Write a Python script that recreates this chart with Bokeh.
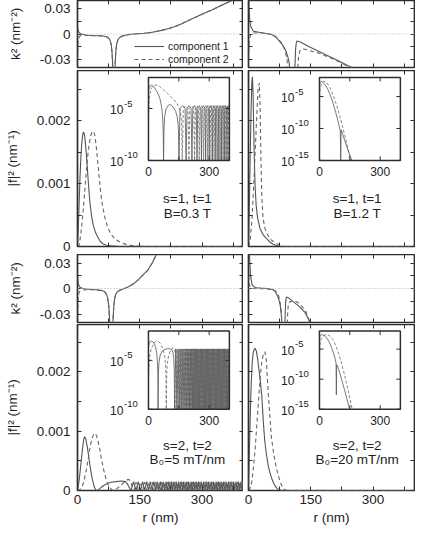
import numpy as np
from bokeh.plotting import figure
from bokeh.layouts import column, row
from bokeh.models import (Range1d, LinearAxis, FixedTicker, CustomJSTickFormatter, Span,
                          Legend, LegendItem, LinearScale)
from bokeh.embed import file_html
from bokeh.resources import INLINE
from bokeh.core.properties import value

# ---------------- axes: ranges, ticks, labels ----------------
R_RANGE = (0, 400)
K2_RANGE = (-0.04, 0.04)
F_RANGE = (0, 0.0028)
R_TICKS = [0, 150, 300]
R_MINOR = [75, 225, 375]
K2_TICKS = [-0.03, 0, 0.03]
K2_MINOR = [-0.015, 0.015]
F_TICKS = [0, 0.001, 0.002]
F_MINOR = [0.0005, 0.0015, 0.0025]
INSET_R_TICKS = [0, 150, 300]
INSET_R_LABEL_POS = [0, 300]
INSET_R_LABELS = ["0", "300"]
INSET_EXP_LEFT = (-10, -2)      # log10 |f|^2 range of left insets
INSET_EXP_RIGHT = (-15, -2)     # log10 |f|^2 range of right insets
INSET_TICKS_LEFT = [-5, -10]
INSET_TICKS_RIGHT = [-5, -10, -15]
K2_LABEL = "k\u00b2 (nm\u207b\u00b2)"
F_LABEL = "|f|\u00b2 (nm\u207b\u00b9)"
R_LABEL = "r (nm)"
LEGEND_LABELS = ["component 1", "component 2"]
ANN_TOP_LEFT = ["s=1, t=1", "B=0.3 T"]
ANN_TOP_RIGHT = ["s=1, t=1", "B=1.2 T"]
ANN_BOT_LEFT = ["s=2, t=2", "B\u2080=5 mT/nm"]
ANN_BOT_RIGHT = ["s=2, t=2", "B\u2080=20 mT/nm"]

# ---------------- k^2 data (r in nm, k^2 in nm^-2) ----------------
k2_s1_b03_c1 = [(0.5, 0.0075), (1.5, 0.0045), (3, 0.0025), (6, 0.001), (10, 0.0), (20, -0.0012),
                (35, -0.0018), (50, -0.002), (62, -0.0024), (70, -0.0032), (75, -0.0048), (78.5, -0.0075),
                (81, -0.012), (83, -0.02), (84.5, -0.033), (85.5, -0.05), (90, -0.05), (91, -0.033),
                (92.5, -0.02), (94.5, -0.012), (97, -0.0075), (101, -0.0045), (108, -0.0025), (118, -0.0012),
                (130, -0.0003), (145, 0.0003), (160, 0.0008), (180, 0.002), (200, 0.004), (220, 0.0065),
                (235, 0.009), (250, 0.012), (265, 0.0155), (280, 0.019), (300, 0.0235), (325, 0.029),
                (350, 0.035), (372, 0.04), (385, 0.044)]
k2_s1_b03_c2 = [(0.5, -0.03), (1.5, -0.012), (3, -0.005), (6, -0.0025), (10, -0.0018), (20, -0.0018),
                (35, -0.0019), (50, -0.0021), (62, -0.0025), (70, -0.0033), (75, -0.005), (78.5, -0.0078),
                (81, -0.0125), (83, -0.021), (84.5, -0.034), (85.5, -0.05), (90, -0.05), (91, -0.032),
                (92.5, -0.019), (94.5, -0.0115), (97, -0.0072), (101, -0.0043), (108, -0.0024), (118, -0.0011),
                (130, -0.0003), (145, 0.0003), (160, 0.0008), (180, 0.002), (200, 0.004), (220, 0.0065),
                (235, 0.009), (250, 0.012), (265, 0.0155), (280, 0.019), (300, 0.0235), (325, 0.029),
                (350, 0.035), (372, 0.04), (385, 0.044)]
k2_s1_b12_c1 = [(0.5, 0.045), (1.5, 0.03), (3, 0.017), (6, 0.008), (12, 0.0033), (25, 0.002), (43, 0.0005),
                (55, -0.0006), (65, -0.003), (74, -0.0083), (82, -0.013), (88, -0.018), (91.5, -0.022),
                (95, -0.028), (97.5, -0.033), (99.5, -0.042), (101, -0.055), (111, -0.055), (112.5, -0.03),
                (113.5, -0.018), (115, -0.011), (117, -0.0083), (125, -0.0095), (145, -0.015), (170, -0.021),
                (200, -0.028), (225, -0.034), (245, -0.039), (265, -0.044)]
k2_s1_b12_c2 = [(0.5, -0.03), (1.5, -0.012), (3, -0.004), (6, 0.0), (12, 0.0012), (25, 0.0012), (43, 0.0008),
                (55, -0.0005), (65, -0.003), (72, -0.006), (80, -0.011), (86, -0.017), (90, -0.024),
                (93, -0.032), (95, -0.042), (96.5, -0.055), (118, -0.055), (119.5, -0.035), (121, -0.025),
                (124, -0.02), (130, -0.018), (140, -0.0185), (155, -0.021), (167, -0.0225), (200, -0.029),
                (225, -0.035), (245, -0.04), (265, -0.045)]
k2_s2_b5_c1 = [(0.5, 0.014), (1.5, 0.0075), (3, 0.004), (6, 0.0015), (10, 0.0005), (20, -0.0005),
               (35, -0.0012), (50, -0.0018), (60, -0.0025), (66, -0.004), (70, -0.007), (73, -0.012),
               (75.5, -0.021), (77, -0.033), (78, -0.05), (85, -0.05), (86, -0.033), (87.5, -0.021),
               (89.5, -0.012), (92, -0.007), (96, -0.004), (102, -0.002), (110, -0.0005), (118, 0.001),
               (126, 0.003), (135, 0.0055), (147, 0.0104), (158, 0.016), (170, 0.022), (180, 0.03),
               (187, 0.037), (195, 0.046)]
k2_s2_b5_c2 = [(0.5, -0.04), (1.5, -0.015), (3, -0.006), (6, -0.003), (10, -0.002), (20, -0.0015),
               (35, -0.0013), (50, -0.0019), (60, -0.0026), (66, -0.0042), (70, -0.0072), (73, -0.0125),
               (75.5, -0.022), (77, -0.034), (78, -0.05), (85, -0.05), (86, -0.032), (87.5, -0.02),
               (89.5, -0.0115), (92, -0.0068), (96, -0.0039), (102, -0.0019), (110, -0.0005), (118, 0.001),
               (126, 0.003), (135, 0.0055), (147, 0.0104), (158, 0.016), (170, 0.022), (180, 0.03),
               (187, 0.037), (195, 0.046)]
k2_s2_b20_c1 = [(0.5, 0.05), (2, 0.042), (3, 0.0335), (4.7, 0.016), (8.5, 0.0046), (14, 0.0018), (20, 0.0008),
                (30, 0.0004), (43, 0.0), (52, -0.0006), (59, -0.0014), (64, -0.003), (68, -0.0069),
                (71, -0.01), (74, -0.0146), (76.5, -0.02), (78, -0.026), (79.5, -0.034), (81, -0.05),
                (87.5, -0.05), (88.4, -0.03), (89.5, -0.016), (91, -0.011), (92.3, -0.01), (95, -0.0105),
                (105, -0.0146), (121, -0.0204), (136, -0.028), (148, -0.0396), (155, -0.046)]
k2_s2_b20_c2 = [(0.5, 0.015), (2, 0.005), (5, 0.0015), (10, 0.0003), (20, -0.0002), (40, -0.0004),
                (55, -0.0008), (62, -0.002), (67, -0.004), (72.5, -0.0085), (75.5, -0.014), (78, -0.022),
                (79.5, -0.032), (81, -0.05), (93, -0.05), (94.5, -0.028), (96, -0.018), (100, -0.0155),
                (106, -0.0148), (113, -0.015), (121, -0.017), (129, -0.021), (138, -0.027), (148, -0.0396),
                (155, -0.046)]

# ---------------- |f|^2 data (r in nm, |f|^2 in nm^-1) ----------------
f_s1_b03_c1 = [(0, 0), (2, 0.0003), (4, 0.0007), (6, 0.0011), (8, 0.0014), (10, 0.00162), (12, 0.00175),
               (14, 0.00182), (16, 0.0018), (18, 0.00172), (21, 0.0015), (24, 0.00122), (27, 0.00094),
               (30, 0.0007), (34, 0.00048), (38, 0.00034), (43, 0.00023), (48, 0.00016), (55, 0.00008),
               (62, 0.00004), (70, 0.00002), (80, 0.00001), (100, 0), (400, 0)]
f_s1_b03_c2 = [(0, 0), (4, 0.00002), (8, 0.0002), (12, 0.00045), (16, 0.00075), (20, 0.0011), (24, 0.0014),
               (28, 0.00163), (32, 0.00177), (36, 0.00183), (39, 0.00183), (42, 0.00176), (45, 0.0016),
               (48, 0.0014), (52, 0.00112), (56, 0.00085), (60, 0.00066), (66, 0.00046), (72, 0.00032),
               (80, 0.0002), (90, 0.00012), (100, 0.00008), (110, 0.00005), (125, 0.00002), (140, 0.00001),
               (160, 0), (400, 0)]
f_s1_b12_c1 = [(0, 0), (2, 0.0006), (4, 0.0014), (6, 0.0021), (8, 0.00262), (9.5, 0.0027), (11, 0.00245),
               (12.5, 0.0019), (14, 0.0014), (16, 0.00095), (18.5, 0.00065), (22, 0.00045), (28, 0.00028),
               (35, 0.00019), (43, 0.00013), (50, 0.00008), (58, 0.00004), (66, 0.00002), (78, 0), (400, 0)]
f_s1_b12_c2 = [(0, 0), (4, 0.0001), (8, 0.0004), (12, 0.0009), (16, 0.0015), (20, 0.0021), (23, 0.0025),
               (26, 0.0026), (28, 0.0022), (30, 0.0014), (32, 0.0008), (35, 0.00045), (40, 0.00028),
               (45, 0.0002), (52, 0.00012), (60, 0.00008), (70, 0.00004), (86, 0), (400, 0)]
f_s2_b5_c1 = [(0, 0), (3, 0.00012), (6, 0.0003), (9, 0.0005), (12, 0.0007), (15, 0.00086), (17, 0.00091),
              (20, 0.00087), (24, 0.00072), (28, 0.00052), (32, 0.00033), (36, 0.00018), (40, 0.00007),
              (44, 0.00001), (47, 0), (50, 0.00001), (55, 0.00004), (62, 0.00008), (70, 0.00011),
              (80, 0.00014), (93, 0.00015), (105, 0.00016), (116, 0.00015), (122, 0.00009), (127, 0.00002)]
f_s2_b5_c2 = [(0, 0), (5, 0.00001), (10, 0.00005), (15, 0.00014), (20, 0.0003), (25, 0.0005), (30, 0.00072),
              (35, 0.00088), (40, 0.00096), (43, 0.00096), (46, 0.00092), (50, 0.00082), (54, 0.00068),
              (58, 0.00052), (62, 0.00038), (66, 0.00026), (70, 0.00016), (75, 0.00008), (80, 0.00003),
              (84, 0.00001), (88, 0), (92, 0.00002), (100, 0.00006), (108, 0.00011), (116, 0.00016),
              (122, 0.00019), (127, 0.00017), (131, 0.00008)]
# dense oscillating tail of the s=2, B0=5 mT/nm states (zeros and crests)
f_s2_b5_tail_c1 = [(129, 0), (135, 1.5e-4), (141, 0), (146.5, 1.5e-4), (152, 0), (157, 1.5e-4), (162, 0),
                   (166.5, 1.5e-4), (171, 0), (175.5, 1.5e-4), (180, 0), (184, 1.5e-4), (188, 0), (192, 1.5e-4),
                   (196, 0), (199.5, 1.5e-4), (203, 0), (206.5, 1.5e-4), (210, 0), (213.5, 1.5e-4), (217, 0),
                   (220, 1.5e-4), (223, 0), (226, 1.5e-4), (229, 0), (232, 1.5e-4), (235, 0), (238, 1.5e-4),
                   (241, 0), (244, 1.5e-4), (247, 0), (250, 1.5e-4), (253, 0), (256, 1.5e-4), (259, 0),
                   (262, 1.5e-4), (265, 0), (268, 1.5e-4), (271, 0), (274, 1.5e-4), (277, 0), (280, 1.5e-4),
                   (283, 0), (286, 1.5e-4), (289, 0), (292, 1.5e-4), (295, 0), (298, 1.5e-4), (301, 0),
                   (304, 1.5e-4), (307, 0), (310, 1.5e-4), (313, 0), (316, 1.5e-4), (319, 0), (322, 1.5e-4),
                   (325, 0), (328, 1.5e-4), (331, 0), (334, 1.5e-4), (337, 0), (340, 1.5e-4), (343, 0),
                   (346, 1.5e-4), (349, 0), (352, 1.5e-4), (355, 0), (358, 1.5e-4), (361, 0), (364, 1.5e-4),
                   (367, 0), (370, 1.5e-4), (373, 0), (376, 1.5e-4), (379, 0), (382, 1.5e-4), (385, 0),
                   (388, 1.5e-4), (391, 0), (394, 1.5e-4), (397, 0), (400, 1.5e-4)]
f_s2_b5_tail_c2 = [(136, 0), (141, 1.4e-4), (146.5, 0), (152, 1.4e-4), (157, 0), (162, 1.4e-4), (166.5, 0),
                   (171, 1.4e-4), (175.5, 0), (180, 1.4e-4), (184, 0), (188, 1.4e-4), (192, 0), (196, 1.4e-4),
                   (199.5, 0), (203, 1.4e-4), (206.5, 0), (210, 1.4e-4), (213.5, 0), (217, 1.4e-4), (220, 0),
                   (223, 1.4e-4), (226, 0), (229, 1.4e-4), (232, 0), (235, 1.4e-4), (238, 0), (241, 1.4e-4),
                   (244, 0), (247, 1.4e-4), (250, 0), (253, 1.4e-4), (256, 0), (259, 1.4e-4), (262, 0),
                   (265, 1.4e-4), (268, 0), (271, 1.4e-4), (274, 0), (277, 1.4e-4), (280, 0), (283, 1.4e-4),
                   (286, 0), (289, 1.4e-4), (292, 0), (295, 1.4e-4), (298, 0), (301, 1.4e-4), (304, 0),
                   (307, 1.4e-4), (310, 0), (313, 1.4e-4), (316, 0), (319, 1.4e-4), (322, 0), (325, 1.4e-4),
                   (328, 0), (331, 1.4e-4), (334, 0), (337, 1.4e-4), (340, 0), (343, 1.4e-4), (346, 0),
                   (349, 1.4e-4), (352, 0), (355, 1.4e-4), (358, 0), (361, 1.4e-4), (364, 0), (367, 1.4e-4),
                   (370, 0), (373, 1.4e-4), (376, 0), (379, 1.4e-4), (382, 0), (385, 1.4e-4), (388, 0),
                   (391, 1.4e-4), (394, 0), (397, 1.4e-4), (400, 0)]
f_s2_b20_c1 = [(0, 0), (2, 0.0006), (4, 0.0012), (6, 0.0017), (8.5, 0.0021), (11, 0.00232), (14, 0.00238),
               (16, 0.0024), (19, 0.00235), (22, 0.00222), (25, 0.00205), (28, 0.00188), (32, 0.0016),
               (35.5, 0.00118), (39, 0.00085), (43, 0.00062), (48, 0.0004), (55, 0.00022), (62, 0.0001),
               (68, 0.00004), (74, 0.00001), (80, 0), (400, 0)]
f_s2_b20_c2 = [(0, 0), (4, 0.00003), (8, 0.00015), (12, 0.0004), (16, 0.0007), (20, 0.0011), (24, 0.0015),
               (28, 0.0019), (32, 0.00218), (36, 0.0023), (39.5, 0.00234), (43, 0.0022), (47, 0.0017),
               (51, 0.0013), (55, 0.00091), (61, 0.0006), (67, 0.00038), (74, 0.0002), (80, 0.00008),
               (86, 0.00002), (92, 0), (400, 0)]

# ---------------- insets: log10 |f|^2 ----------------
logf_s1_b03_c1 = [(0.5, -3.4), (3, -3.0), (8, -2.8), (14, -2.74), (20, -2.78), (28, -2.95), (38, -3.25),
                  (48, -3.6), (56, -4.0), (62, -4.5), (67, -5.2), (71, -6.2), (73, -7.3), (74.5, -10),
                  (76.5, -7.2), (80, -5.8), (86, -5.1), (95, -4.75), (105, -4.6), (115, -4.7), (125, -4.95),
                  (135, -5.3), (142, -5.8), (148, -6.8), (151, -10),
                  (156, -5.0), (168.5, -4.72), (181, -5.0), (186, -10), (190.5, -5.0), (200.5, -4.72),
                  (210.5, -5.0), (215, -10), (219, -5.0), (227.5, -4.72), (236, -5.0), (240, -10),
                  (243.5, -5.0), (251, -4.72), (258.5, -5.0), (262, -10), (265, -5.0), (272, -4.72),
                  (279, -5.0), (282, -10), (284.7, -5.0), (291, -4.72), (297.3, -5.0), (300, -10),
                  (302.5, -5.0), (308.5, -4.72), (314.5, -5.0), (317, -10), (319.5, -5.0), (325, -4.72),
                  (330.5, -5.0), (333, -10), (335.3, -5.0), (340.5, -4.72), (345.7, -5.0), (348, -10),
                  (350, -5.0), (355, -4.72), (360, -5.0), (362, -10), (364, -5.0), (368.5, -4.72),
                  (373, -5.0), (375, -10), (377, -5.0), (381.5, -4.72), (386, -5.0), (388, -10),
                  (390, -5.0), (394, -4.72), (398, -5.0), (400, -5.3)]
logf_s1_b03_c2 = [(1, -5.5), (3, -4.4), (6, -3.7), (10, -3.3), (16, -3.0), (24, -2.82), (32, -2.74),
                  (40, -2.73), (48, -2.78), (58, -2.92), (68, -3.1), (80, -3.3), (95, -3.55), (110, -3.85),
                  (125, -4.15), (138, -4.45), (148, -4.75), (158, -5.3), (164, -6.3), (167, -10),
                  (172, -5.0), (183.5, -4.72), (195, -5.0), (200, -10), (204, -5.0), (214, -4.72),
                  (224, -5.0), (228, -10), (231.5, -5.0), (239.5, -4.72), (247.5, -5.0), (251, -10),
                  (254, -5.0), (261.5, -4.72), (269, -5.0), (272, -10), (275, -5.0), (281.5, -4.72),
                  (288, -5.0), (291, -10), (293.7, -5.0), (300, -4.72), (306.3, -5.0), (309, -10),
                  (311.5, -5.0), (317, -4.72), (322.5, -5.0), (325, -10), (327.5, -5.0), (333, -4.72),
                  (338.5, -5.0), (341, -10), (343, -5.0), (348, -4.72), (353, -5.0), (355, -10),
                  (357, -5.0), (362, -4.72), (367, -5.0), (369, -10), (371, -5.0), (375.5, -4.72),
                  (380, -5.0), (382, -10), (384, -5.0), (388, -4.72), (392, -5.0), (394, -10),
                  (396, -5.0), (400, -4.75)]
logf_s1_b12_c1 = [(0.5, -3.2), (2, -2.9), (5, -2.7), (9, -2.62), (13, -2.66), (18, -2.8), (25, -3.05),
                  (32, -3.35), (40, -3.8), (50, -4.5), (60, -5.35), (70, -6.35), (80, -7.45), (90, -8.65),
                  (98, -9.7), (103, -10.4), (105, -15), (107, -10.2), (115, -10.9), (125, -11.9),
                  (140, -13.3), (155, -14.6), (160, -15)]
logf_s1_b12_c2 = [(1, -5.0), (3, -4.0), (6, -3.4), (10, -3.0), (16, -2.75), (22, -2.62), (28, -2.62),
                  (35, -2.8), (45, -3.25), (55, -3.85), (65, -4.6), (75, -5.45), (85, -6.4), (95, -7.45),
                  (105, -8.6), (115, -9.8), (125, -11.1), (135, -12.4), (145, -13.8), (155, -15.0)]
logf_s2_b5_c1 = [(0.5, -3.6), (3, -3.25), (8, -3.08), (15, -3.03), (22, -3.1), (30, -3.35), (36, -3.7),
                 (41, -4.3), (44.5, -5.2), (46.5, -6.5), (47.5, -10), (49, -6.5), (52, -5.2), (58, -4.45),
                 (68, -4.05), (80, -3.88), (93, -3.82), (105, -3.8), (115, -3.9), (121, -4.2), (125, -4.8),
                 (127.5, -6.0)]
logf_s2_b5_c2 = [(1, -6.2), (4, -5.0), (8, -4.3), (14, -3.82), (20, -3.52), (28, -3.22), (36, -3.07),
                 (42, -3.02), (50, -3.08), (58, -3.25), (66, -3.55), (74, -4.0), (80, -4.6), (84, -5.3),
                 (86.5, -6.5), (88, -10), (90, -6.3), (94, -5.2), (100, -4.5), (108, -4.0), (116, -3.8),
                 (122, -3.72), (127, -3.78), (131, -4.1), (134, -4.8), (135.3, -6.0)]
logf_s2_b20_c1 = [(0.5, -3.2), (2, -2.9), (5, -2.72), (10, -2.62), (15, -2.62), (22, -2.72), (30, -2.95),
                  (40, -3.35), (50, -3.95), (60, -4.75), (70, -5.75), (78, -6.7), (82, -7.3), (83.5, -12.6),
                  (85, -7.6), (88, -7.7), (95, -8.4), (105, -9.5), (115, -10.7), (125, -11.9), (135, -13.2),
                  (145, -14.5), (150, -15)]
logf_s2_b20_c2 = [(1, -5.2), (3, -4.2), (6, -3.6), (10, -3.2), (16, -2.9), (24, -2.72), (32, -2.64),
                  (40, -2.65), (48, -2.75), (56, -3.0), (65, -3.4), (75, -4.0), (85, -4.8), (95, -5.75),
                  (105, -6.85), (115, -8.1), (125, -9.45), (135, -10.9), (145, -12.4), (155, -14.0), (162, -15)]

# ---------------- style / layout constants ----------------
FONT = "Liberation Sans"
INK = "#2e2e2e"
TXT = "#222222"
C1 = "#555555"
C2 = "#666666"
FRAME_W = 166
LEFT_BORDER = 77
INSET_X = (171, 366)             # inset box in parent data units (r)
INSET_Y = (0.00137, 0.00269)     # inset box in parent data units (|f|^2)
ANN_X_LEFT, ANN_X_RIGHT = 265, 262
ANN_Y = [0.00076, 0.00053]


def pairs(lst):
    a = np.asarray(lst, dtype=float)
    return a[:, 0], a[:, 1]


def add_axis(p, side, ticker, labeled, fmt_code=None, label=None):
    ax = LinearAxis(ticker=ticker, axis_line_color=None,
                    major_tick_in=4, major_tick_out=0, minor_tick_in=4, minor_tick_out=0,
                    major_tick_line_color=INK, minor_tick_line_color=INK,
                    major_tick_line_width=1, minor_tick_line_width=1)
    if labeled:
        ax.major_label_text_font = FONT
        ax.major_label_text_font_size = "13.5px"
        ax.major_label_text_color = TXT
        ax.major_label_standoff = 7 if side == "left" else 4
        if fmt_code:
            ax.formatter = CustomJSTickFormatter(code=fmt_code)
        if label:
            ax.axis_label = label
            ax.axis_label_text_font = FONT
            ax.axis_label_text_font_size = "13.5px"
            ax.axis_label_text_font_style = "normal"
            ax.axis_label_text_color = TXT
            ax.axis_label_standoff = 14 if side == "left" else 3
    else:
        ax.major_label_text_font_size = "0px"
        ax.major_label_standoff = 0
        ax.formatter = CustomJSTickFormatter(code="return '';")
    p.add_layout(ax, side)


def panel(kind, left, frame_h, bottom_border, xlabels):
    yr = K2_RANGE if kind == "k2" else F_RANGE
    p = figure(frame_width=FRAME_W, frame_height=frame_h,
               x_range=Range1d(*R_RANGE), y_range=Range1d(*yr),
               output_backend="svg", toolbar_location=None,
               x_axis_location=None, y_axis_location=None,
               min_border_left=LEFT_BORDER if left else 5, min_border_right=0 if left else 1,
               min_border_top=0, min_border_bottom=bottom_border)
    p.grid.visible = False
    p.outline_line_color = INK
    p.outline_line_width = 1.7
    p.background_fill_color = "white"
    p.border_fill_color = "white"
    xt = FixedTicker(ticks=R_TICKS, minor_ticks=R_MINOR)
    if kind == "k2":
        yt = FixedTicker(ticks=K2_TICKS, minor_ticks=K2_MINOR)
        fmt = "return tick == 0 ? '0' : tick.toFixed(2);"
        ylab = K2_LABEL
    else:
        yt = FixedTicker(ticks=F_TICKS, minor_ticks=F_MINOR)
        fmt = "return tick == 0 ? '0' : tick.toFixed(3);"
        ylab = F_LABEL
    add_axis(p, "below", xt, xlabels, None, R_LABEL if xlabels else None)
    add_axis(p, "above", xt, False)
    add_axis(p, "left", yt, left, fmt, ylab)
    add_axis(p, "right", yt, False)
    if kind == "k2":
        p.add_layout(Span(location=0, dimension="width", line_color="#b5b5b5",
                          line_dash="1 2", line_width=1))
    return p


def curves(p, c1, c2):
    r1, v1 = pairs(c1)
    r2, v2 = pairs(c2)
    a = p.line(r1, v1, line_color=C1, line_width=1.1)
    b = p.line(r2, v2, line_color=C2, line_width=1.1, line_dash="4 3")
    return a, b


def inset(p, exp_range, tick_exps, c1, c2):
    lo, hi = exp_range
    sub = p.subplot(x_source=Range1d(*R_RANGE), y_source=Range1d(lo, hi),
                    x_scale=LinearScale(), y_scale=LinearScale(),
                    x_target=Range1d(*INSET_X), y_target=Range1d(*INSET_Y))
    box = dict(left=[R_RANGE[0]], right=[R_RANGE[1]], bottom=[lo], top=[hi])
    sub.quad(**box, fill_color="white", line_color=None)
    r1, e1 = pairs(c1)
    r2, e2 = pairs(c2)
    sub.line(r1, e1, line_color=C1, line_width=0.8)
    sub.line(r2, e2, line_color=C2, line_width=0.8, line_dash="3 2")
    sub.quad(**box, fill_color=None, line_color=INK, line_width=1.5)
    n = len(tick_exps)
    tk = dict(length=4, length_units="screen", line_color=INK, line_width=1)
    sub.ray(x=[R_RANGE[0]] * n, y=tick_exps, angle=0, **tk)
    sub.ray(x=[R_RANGE[1]] * n, y=tick_exps, angle=np.pi, **tk)
    m = len(INSET_R_TICKS)
    sub.ray(x=INSET_R_TICKS, y=[lo] * m, angle=np.pi / 2, **tk)
    sub.ray(x=INSET_R_TICKS, y=[hi] * m, angle=-np.pi / 2, **tk)
    sub.text(x=[R_RANGE[0]] * n, y=tick_exps, text=["10"] * n, x_offset=-25, y_offset=1,
             text_align="right", text_baseline="middle", text_font=value(FONT),
             text_font_size="12px", text_color=TXT)
    sub.text(x=[R_RANGE[0]] * n, y=tick_exps, text=[str(e) for e in tick_exps], x_offset=-24.5,
             y_offset=-5, text_align="left", text_baseline="middle", text_font=value(FONT),
             text_font_size="9.5px", text_color=TXT)
    k = len(INSET_R_LABEL_POS)
    sub.text(x=INSET_R_LABEL_POS, y=[lo] * k, text=INSET_R_LABELS, y_offset=11.5,
             text_align="center", text_baseline="middle", text_font=value(FONT),
             text_font_size="12px", text_color=TXT)


def annotate(p, x, lines):
    p.text(x=[x] * len(lines), y=ANN_Y, text=lines, text_align="center", text_baseline="middle",
           text_font=value(FONT), text_font_size="13.5px", text_color=TXT)


# ---- row 1: k^2, s=1 ----
pA = panel("k2", True, 67, 3, False)
rA1, rA2 = curves(pA, k2_s1_b03_c1, k2_s1_b03_c2)
legend = Legend(items=[LegendItem(label=LEGEND_LABELS[0], renderers=[rA1]),
                       LegendItem(label=LEGEND_LABELS[1], renderers=[rA2])],
                location=(57, 2), padding=0, margin=0, spacing=1,
                glyph_width=30, glyph_height=12, label_height=12, label_standoff=4,
                label_text_font=FONT, label_text_font_size="10.5px", label_text_color=TXT,
                border_line_color=None, background_fill_alpha=0)
pA.add_layout(legend)
pB = panel("k2", False, 67, 3, False)
curves(pB, k2_s1_b12_c1, k2_s1_b12_c2)

# ---- row 2: |f|^2, s=1 ----
pE = panel("f", True, 176, 8, False)
curves(pE, f_s1_b03_c1, f_s1_b03_c2)
inset(pE, INSET_EXP_LEFT, INSET_TICKS_LEFT, logf_s1_b03_c1, logf_s1_b03_c2)
annotate(pE, ANN_X_LEFT, ANN_TOP_LEFT)
pF = panel("f", False, 176, 8, False)
curves(pF, f_s1_b12_c1, f_s1_b12_c2)
inset(pF, INSET_EXP_RIGHT, INSET_TICKS_RIGHT, logf_s1_b12_c1, logf_s1_b12_c2)
annotate(pF, ANN_X_RIGHT, ANN_TOP_RIGHT)

# ---- row 3: k^2, s=2 ----
pC = panel("k2", True, 68, 2, False)
curves(pC, k2_s2_b5_c1, k2_s2_b5_c2)
pD = panel("k2", False, 68, 2, False)
curves(pD, k2_s2_b20_c1, k2_s2_b20_c2)

# ---- row 4: |f|^2, s=2 ----
pG = panel("f", True, 166, 37, True)
curves(pG, f_s2_b5_c1 + f_s2_b5_tail_c1, f_s2_b5_c2 + f_s2_b5_tail_c2)
tr1, tf1 = pairs(f_s2_b5_tail_c1)
tr2, tf2 = pairs(f_s2_b5_tail_c2)
floor = 10.0 ** INSET_EXP_LEFT[0]
g1 = logf_s2_b5_c1 + list(zip(tr1, np.log10(np.maximum(tf1, floor))))
g2 = logf_s2_b5_c2 + list(zip(tr2, np.log10(np.maximum(tf2, floor))))
inset(pG, INSET_EXP_LEFT, INSET_TICKS_LEFT, g1, g2)
annotate(pG, ANN_X_LEFT, ANN_BOT_LEFT)
pH = panel("f", False, 166, 37, True)
curves(pH, f_s2_b20_c1, f_s2_b20_c2)
inset(pH, INSET_EXP_RIGHT, INSET_TICKS_RIGHT, logf_s2_b20_c1, logf_s2_b20_c2)
annotate(pH, ANN_X_RIGHT, ANN_BOT_RIGHT)

layout = column(row(pA, pB), row(pE, pF), row(pC, pD), row(pG, pH))
open("out.html", "w").write(file_html(layout, INLINE, title="Spinor states"))
